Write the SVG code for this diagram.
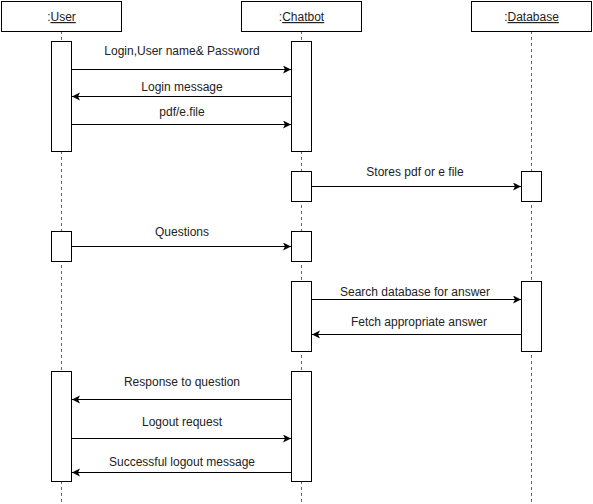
<svg xmlns="http://www.w3.org/2000/svg" width="593" height="504" viewBox="0 0 593 504">
<style>
.hdr{fill:#fff;stroke:#000;stroke-width:1}
.act{fill:#fff;stroke:#000;stroke-width:1}
.life{stroke:#666;stroke-width:1;stroke-dasharray:3 3;fill:none}
.msg{stroke:#000;stroke-width:1;fill:none}
.lbl{font-family:"Liberation Sans",Arial,sans-serif;font-size:12px;fill:#222;text-anchor:middle}
</style>
<defs>
<marker id="ar" markerUnits="userSpaceOnUse" markerWidth="10" markerHeight="10" refX="8" refY="4" orient="auto">
<path d="M0,0 L8,4 L0,8 L2,4 Z" fill="#000"/>
</marker>
</defs>
<rect width="593" height="504" fill="#fff"/>
<g id="lifelines">
<line class="life" x1="61.5" y1="31" x2="61.5" y2="504"/>
<line class="life" x1="301.5" y1="31" x2="301.5" y2="504"/>
<line class="life" x1="531.5" y1="31" x2="531.5" y2="504"/>
</g>
<g id="user">
<rect class="hdr" x="1.5" y="1.5" width="120" height="30"/>
<text class="lbl" x="61.5" y="21">:<tspan text-decoration="underline">User</tspan></text>
<rect class="act" x="51.5" y="41.5" width="20" height="110"/>
<rect class="act" x="51.5" y="231.5" width="20" height="30"/>
<rect class="act" x="51.5" y="371.5" width="20" height="110"/>
</g>
<g id="chatbot">
<rect class="hdr" x="241.5" y="1.5" width="120" height="30"/>
<text class="lbl" x="301.5" y="21">:<tspan text-decoration="underline">Chatbot</tspan></text>
<rect class="act" x="291.5" y="41.5" width="20" height="110"/>
<rect class="act" x="291.5" y="171.5" width="20" height="30"/>
<rect class="act" x="291.5" y="231.5" width="20" height="30"/>
<rect class="act" x="291.5" y="281.5" width="20" height="70"/>
<rect class="act" x="291.5" y="371.5" width="20" height="110"/>
</g>
<g id="database">
<rect class="hdr" x="471.5" y="1.5" width="120" height="30"/>
<text class="lbl" x="531.5" y="21">:<tspan text-decoration="underline">Database</tspan></text>
<rect class="act" x="521.5" y="171.5" width="20" height="30"/>
<rect class="act" x="521.5" y="281.5" width="20" height="70"/>
</g>
<g id="connectors">
<line class="msg" x1="71.5" y1="69.5" x2="291" y2="69.5" marker-end="url(#ar)"/>
<text class="lbl" x="182" y="55">Login,User name&amp; Password</text>
<line class="msg" x1="291.5" y1="96.5" x2="72" y2="96.5" marker-end="url(#ar)"/>
<text class="lbl" x="182" y="91">Login message</text>
<line class="msg" x1="71.5" y1="124.5" x2="291" y2="124.5" marker-end="url(#ar)"/>
<text class="lbl" x="182" y="116">pdf/e.file</text>
<line class="msg" x1="311.5" y1="186.5" x2="521" y2="186.5" marker-end="url(#ar)"/>
<text class="lbl" x="415" y="176">Stores pdf or e file</text>
<line class="msg" x1="71.5" y1="246.5" x2="291" y2="246.5" marker-end="url(#ar)"/>
<text class="lbl" x="182" y="236">Questions</text>
<line class="msg" x1="311.5" y1="299.5" x2="521" y2="299.5" marker-end="url(#ar)"/>
<text class="lbl" x="415" y="296">Search database for answer</text>
<line class="msg" x1="521.5" y1="334.5" x2="312" y2="334.5" marker-end="url(#ar)"/>
<text class="lbl" x="419" y="326">Fetch appropriate answer</text>
<line class="msg" x1="291.5" y1="399.5" x2="72" y2="399.5" marker-end="url(#ar)"/>
<text class="lbl" x="182" y="386">Response to question</text>
<line class="msg" x1="71.5" y1="438.5" x2="291" y2="438.5" marker-end="url(#ar)"/>
<text class="lbl" x="182" y="426">Logout request</text>
<line class="msg" x1="291.5" y1="472.5" x2="72" y2="472.5" marker-end="url(#ar)"/>
<text class="lbl" x="182" y="466">Successful logout message</text>
</g>
</svg>
